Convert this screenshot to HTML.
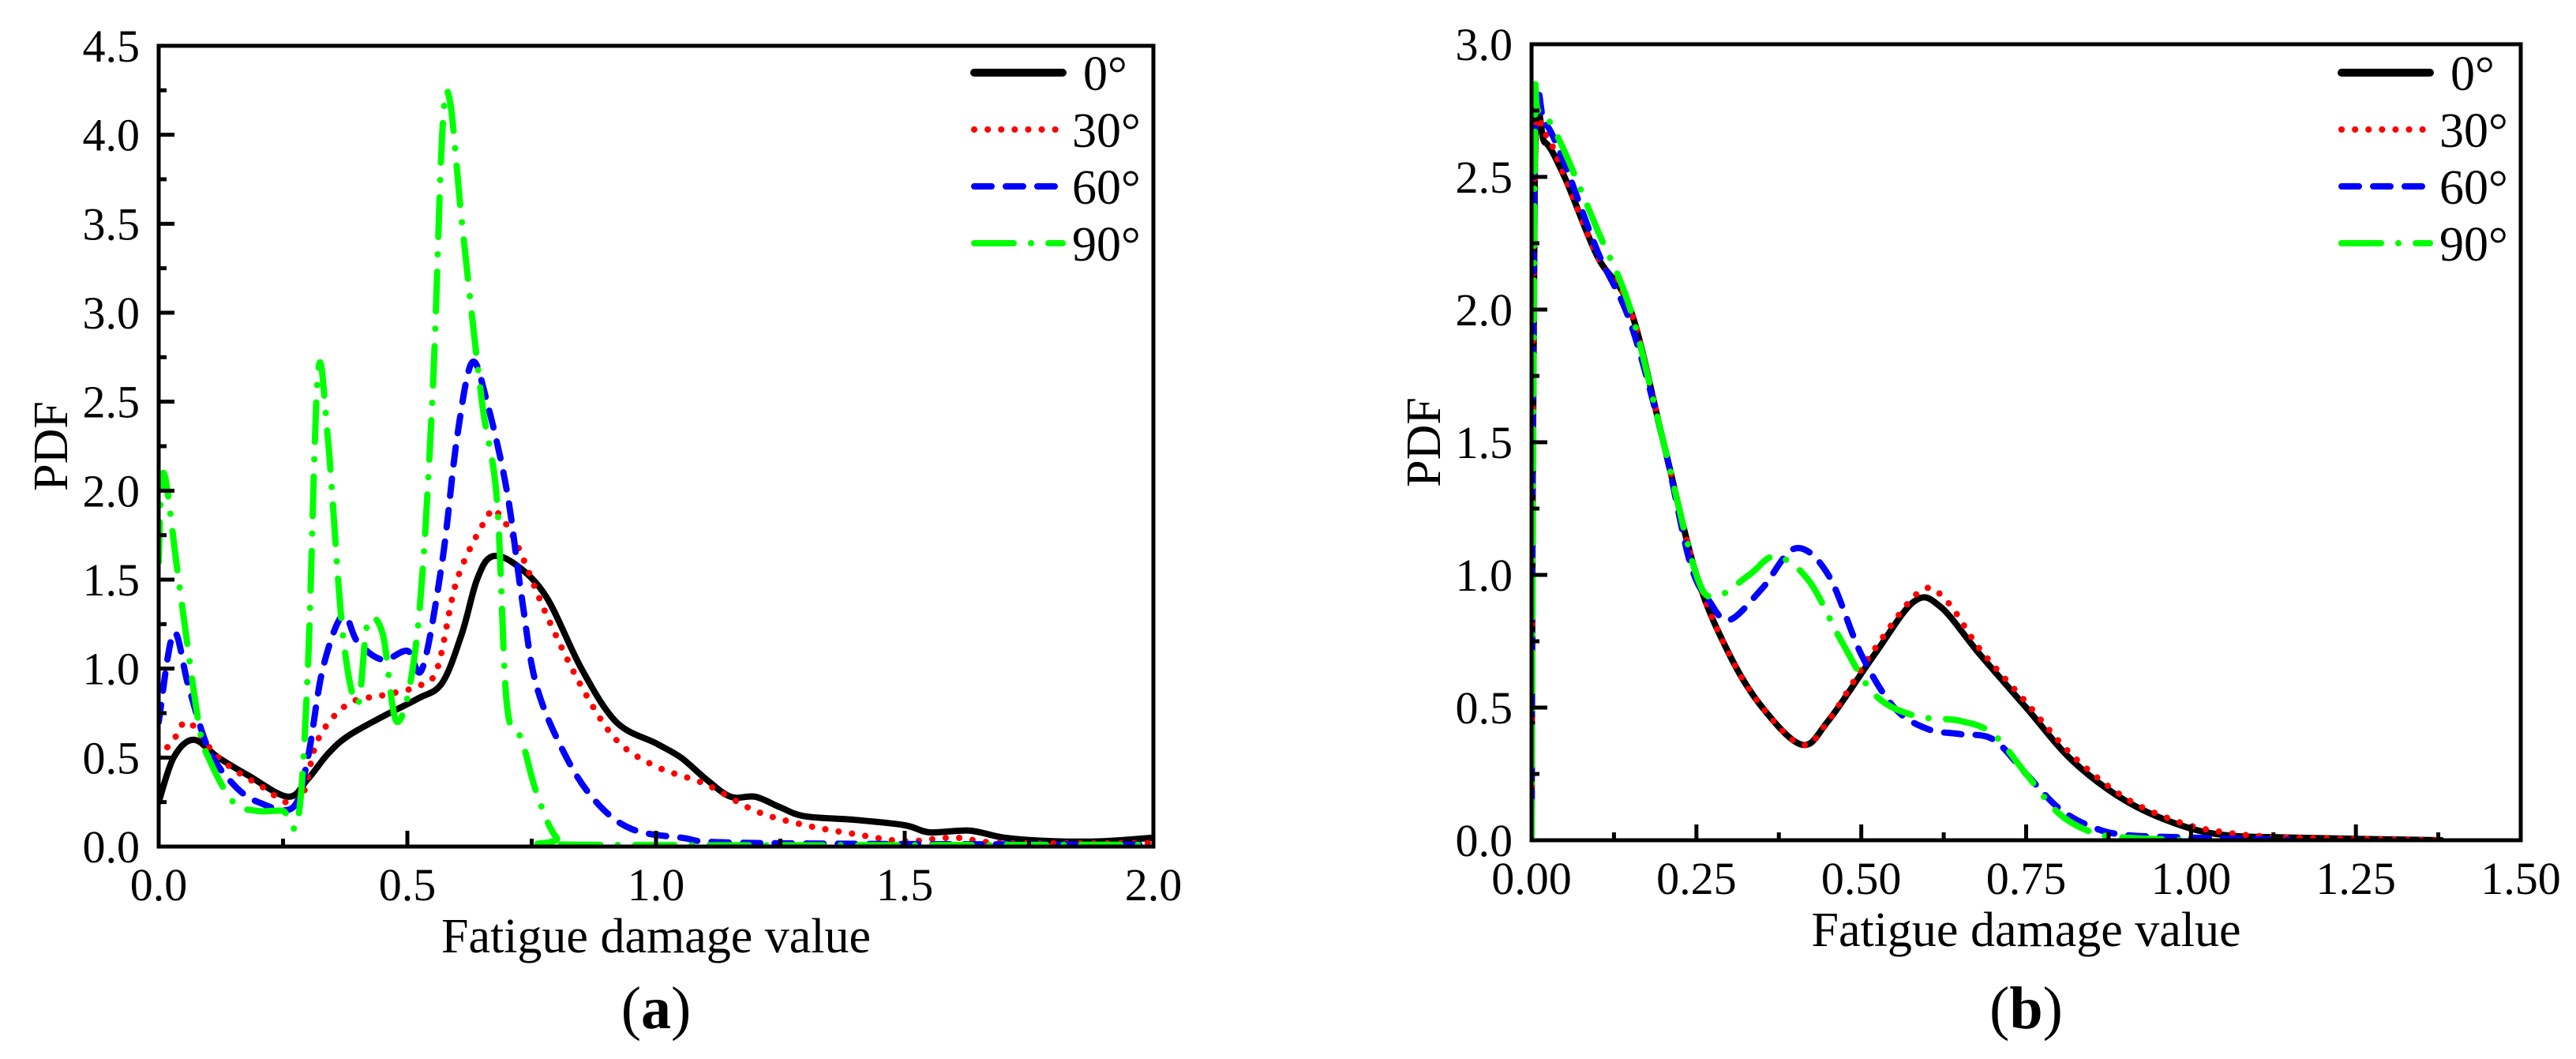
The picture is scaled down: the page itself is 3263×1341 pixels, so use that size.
<!DOCTYPE html>
<html><head><meta charset="utf-8"><style>
html,body{margin:0;padding:0;background:#fff}
svg{display:block;font-family:"Liberation Serif",serif}
</style></head><body>
<svg id="fig" width="3263" height="1341" viewBox="0 0 3263 1341" xmlns="http://www.w3.org/2000/svg"></svg>
<script>
// ---- Panel (a) data ----
const aBlackX=[0,0.03,0.07,0.12,0.18,0.26,0.3,0.34,0.38,0.45,0.52,0.57,0.61,0.64,0.67,0.72,0.78,0.85,0.92,1.0,1.05,1.1,1.15,1.2,1.25,1.3,1.4,1.5,1.55,1.63,1.7,1.8,1.9,2.0];
const aBlackY=[0.25,0.5,0.6,0.5,0.4,0.28,0.38,0.52,0.62,0.73,0.83,0.92,1.2,1.5,1.63,1.58,1.4,1.0,0.7,0.58,0.5,0.38,0.28,0.28,0.22,0.17,0.15,0.12,0.08,0.09,0.05,0.03,0.03,0.05];
const aRedX=[0,0.03,0.06,0.12,0.2,0.28,0.32,0.38,0.45,0.52,0.56,0.6,0.66,0.68,0.72,0.78,0.85,0.92,1.0,1.1,1.2,1.3,1.4,1.5,1.6,1.7,2.0];
const aRedY=[0.5,0.6,0.7,0.5,0.35,0.25,0.6,0.8,0.85,0.9,1.0,1.5,1.85,1.88,1.7,1.3,0.9,0.6,0.45,0.35,0.2,0.12,0.07,0.03,0.05,0.02,0.02];
const aBlueX=[0,0.03,0.06,0.1,0.15,0.2,0.27,0.3,0.33,0.37,0.4,0.45,0.5,0.53,0.57,0.6,0.63,0.66,0.7,0.73,0.76,0.82,0.88,0.95,1.05,1.2,2.0];
const aBlueY=[0.7,1.2,0.9,0.55,0.35,0.25,0.22,0.5,1.0,1.3,1.15,1.05,1.1,1.0,1.6,2.3,2.72,2.5,2.0,1.4,0.9,0.5,0.25,0.1,0.05,0.02,0.01];
const aGreenX=[0,0.01,0.04,0.08,0.1,0.15,0.2,0.25,0.28,0.3,0.32,0.34,0.37,0.4,0.42,0.45,0.48,0.52,0.55,0.57,0.585,0.61,0.65,0.68,0.7,0.73,0.76,0.8,0.85,2.0];
const aGreenY=[1.6,2.1,1.5,0.7,0.5,0.25,0.2,0.2,0.15,1.0,2.65,2.3,1.2,0.8,1.25,1.2,0.7,1.2,2.5,4.0,4.2,3.5,2.5,1.95,0.8,0.6,0.3,0.05,0.01,0.01];
const aXTicks=["0.0","0.5","1.0","1.5","2.0"];
const aYTicks=["0.0","0.5","1.0","1.5","2.0","2.5","3.0","3.5","4.0","4.5"];
// ---- Panel (b) data ----
const bBlackX=[0,0.005,0.02,0.05,0.1,0.15,0.2,0.25,0.3,0.35,0.41,0.45,0.52,0.58,0.62,0.68,0.75,0.82,0.9,0.98,1.05,1.15,1.38];
const bBlackY=[0,2.55,2.63,2.5,2.2,2.0,1.5,1.0,0.7,0.5,0.36,0.45,0.7,0.9,0.88,0.7,0.5,0.3,0.15,0.06,0.02,0.01,0.0];
const bRedX=[0,0.005,0.02,0.05,0.1,0.15,0.2,0.25,0.3,0.35,0.41,0.45,0.52,0.59,0.63,0.68,0.75,0.82,0.9,0.98,1.05,1.15,1.38];
const bRedY=[0,2.5,2.66,2.5,2.2,2.0,1.5,1.0,0.7,0.5,0.36,0.45,0.72,0.94,0.9,0.72,0.52,0.32,0.16,0.07,0.03,0.01,0.0];
const bBlueX=[0,0.005,0.02,0.05,0.1,0.15,0.2,0.24,0.27,0.3,0.35,0.4,0.45,0.5,0.55,0.6,0.65,0.7,0.75,0.8,0.85,0.9,1.0,1.15];
const bBlueY=[0,2.6,2.7,2.55,2.22,1.95,1.5,1.05,0.9,0.83,0.95,1.1,1.0,0.7,0.5,0.42,0.4,0.38,0.25,0.12,0.05,0.02,0.01,0.0];
const bGreenX=[0,0.005,0.01,0.04,0.1,0.15,0.2,0.25,0.28,0.33,0.37,0.42,0.47,0.52,0.58,0.65,0.7,0.75,0.8,0.85,0.9,1.0];
const bGreenY=[0,2.6,2.75,2.65,2.3,2.0,1.5,1.0,0.92,1.0,1.07,0.98,0.75,0.55,0.47,0.45,0.4,0.25,0.1,0.03,0.01,0.0];
const bXTicks=["0.00","0.25","0.50","0.75","1.00","1.25","1.50"];
const bYTicks=["0.0","0.5","1.0","1.5","2.0","2.5","3.0"];
const legendLabels=["0°","30°","60°","90°"];

const NS="http://www.w3.org/2000/svg";
const svg=document.getElementById('fig');
function mk(tag,attrs,parent){const e=document.createElementNS(NS,tag);for(const k in attrs)e.setAttribute(k,attrs[k]);(parent||svg).appendChild(e);return e;}
const styles=[
 {stroke:"#000",w:8,dash:"none",cap:"round"},
 {stroke:"#ff0000",w:8,dash:"0.1 17",cap:"round"},
 {stroke:"#0000ff",w:8,dash:"22 18",cap:"round"},
 {stroke:"#00ff00",w:8,dash:"50 22 0.1 22",cap:"round"}
];
function pathFrom(xs,ys,sx,sy){
  const p=xs.map((x,i)=>[sx(x),sy(ys[i])]);
  let d="M"+p[0][0].toFixed(1)+","+p[0][1].toFixed(1);
  for(let i=0;i<p.length-1;i++){
    const p0=p[Math.max(0,i-1)],p1=p[i],p2=p[i+1],p3=p[Math.min(p.length-1,i+2)];
    const c1=[p1[0]+(p2[0]-p0[0])/6,p1[1]+(p2[1]-p0[1])/6];
    const c2=[p2[0]-(p3[0]-p1[0])/6,p2[1]-(p3[1]-p1[1])/6];
    d+=" C"+c1.map(v=>v.toFixed(1))+" "+c2.map(v=>v.toFixed(1))+" "+p2.map(v=>v.toFixed(1));
  }
  return d;
}
function panel(cfg){
  const g=mk('g',{});
  
  
  const {L,R,T,B,xmax,ymax}=cfg;
  const sx=v=>L+(R-L)*v/xmax, sy=v=>B-(B-T)*v/ymax;
  const clipId=cfg.name+"-clip";
  const cp=mk('clipPath',{id:clipId},g);mk('rect',{x:L,y:T,width:R-L,height:B-T},cp);
  const lines=mk('g',{'clip-path':'url(#'+clipId+')'},g);
  cfg.series.forEach((s,i)=>{
    const st=styles[i];
    const p=mk('path',{d:pathFrom(s[0],s[1],sx,sy),fill:"none",stroke:st.stroke,'stroke-width':st.w,'stroke-dasharray':st.dash,'stroke-linecap':st.cap,'stroke-linejoin':'round'},lines);
    
    
  });
  const fr=mk('rect',{x:L,y:T,width:R-L,height:B-T,fill:"none",stroke:"#000",'stroke-width':5},g);
  
  
  const nx=cfg.xt.length-1;
  for(let i=1;i<nx*2;i++){
    const x=sx(xmax*i/(nx*2)),len=i%2?10:20;
    mk('line',{x1:x,y1:B,x2:x,y2:B-len,stroke:"#000",'stroke-width':5},g);
  }
  cfg.xt.forEach((t,i)=>{
    const e=mk('text',{x:sx(xmax*i/nx),y:B+68,'font-size':58,'text-anchor':'middle'},g);e.textContent=t;
    
    
  });
  const ny=cfg.yt.length-1;
  for(let i=1;i<ny*2;i++){
    const y=sy(ymax*i/(ny*2)),len=i%2?10:20;
    mk('line',{x1:L,y1:y,x2:L+len,y2:y,stroke:"#000",'stroke-width':5},g);
  }
  cfg.yt.forEach((t,i)=>{
    const e=mk('text',{x:L-24,y:sy(ymax*i/ny)+20,'font-size':58,'text-anchor':'end'},g);e.textContent=t;
    
    
  });
  const xt=mk('text',{x:(L+R)/2,y:B+134,'font-size':62,'text-anchor':'middle'},g);xt.textContent="Fatigue damage value";
  
  
  const yt=mk('text',{x:0,y:0,'font-size':62,'text-anchor':'middle',transform:`translate(${L-116},${(T+B)/2}) rotate(-90)`},g);yt.textContent="PDF";
  
  
  const cap=mk('text',{x:(L+R)/2,y:1302,'font-size':76,'text-anchor':'middle'},g);
  cap.innerHTML='(<tspan font-weight="bold">'+cfg.letter+'</tspan>)';
  
  
  const lx=R-227;
  legendLabels.forEach((lab,i)=>{
    const y=92+i*72,st=styles[i];
    const lg=mk('g',{},g);
    
    
    mk('line',{x1:lx,y1:y,x2:lx+112,y2:y,stroke:st.stroke,'stroke-width':i==0?10:8,'stroke-dasharray':st.dash,'stroke-linecap':st.cap},lg);
    const t=mk('text',{x:lx+(i==0?138:124),y:y+22,'font-size':62},lg);t.textContent=lab;
  });
}
panel({name:"panel-a",letter:"a",L:201,R:1461,T:58,B:1072,xmax:2,ymax:4.5,xt:aXTicks,yt:aYTicks,
  series:[[aBlackX,aBlackY],[aRedX,aRedY],[aBlueX,aBlueY],[aGreenX,aGreenY]]});
panel({name:"panel-b",letter:"b",L:1940,R:3193,T:56,B:1064,xmax:1.5,ymax:3,xt:bXTicks,yt:bYTicks,
  series:[[bBlackX,bBlackY],[bRedX,bRedY],[bBlueX,bBlueY],[bGreenX,bGreenY]]});
</script>
</body></html>
